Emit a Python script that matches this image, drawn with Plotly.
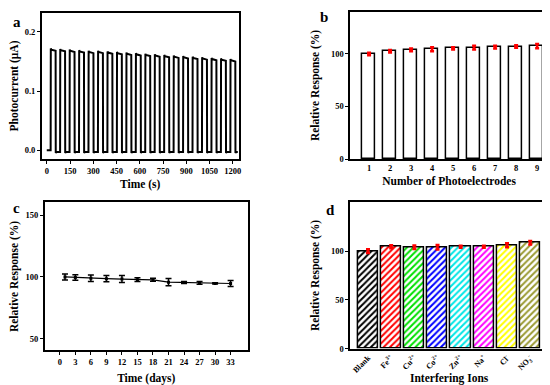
import plotly.graph_objects as go

# ---------------- data ----------------
# Panel a: on/off photocurrent cycles
pulse_on_times = [25, 86, 147, 208, 269, 330, 391, 452, 513, 574,
                  635, 696, 757, 818, 879, 940, 1001, 1062, 1123, 1184]
pulse_off_times = [57, 118, 179, 240, 301, 362, 423, 484, 545, 606,
                   667, 728, 789, 850, 911, 972, 1033, 1094, 1155, 1216]
pulse_peak_start = [0.172, 0.171, 0.170, 0.169, 0.168, 0.168, 0.167, 0.166, 0.165, 0.164,
                    0.163, 0.162, 0.161, 0.160, 0.159, 0.158, 0.157, 0.156, 0.155, 0.154]
pulse_peak_end = [0.168, 0.167, 0.166, 0.165, 0.164, 0.164, 0.163, 0.162, 0.161, 0.160,
                  0.159, 0.158, 0.157, 0.156, 0.155, 0.154, 0.153, 0.152, 0.151, 0.150]
dark_start = 0.0
dark_level = -0.003
dark_dip = -0.005
t_start = 0
t_end = 1232

# Panel b: reproducibility
electrodes = [1, 2, 3, 4, 5, 6, 7, 8, 9]
electrode_resp = [100, 102.5, 104, 104.5, 105.3, 106, 106.5, 107, 107.5]
electrode_err = [1.2, 1.2, 1.3, 1.8, 1.0, 1.8, 1.3, 1.2, 2.0]

# Panel c: stability over days
days = [1, 3, 6, 9, 12, 15, 18, 21, 24, 27, 30, 33]
day_resp = [100, 99.5, 99, 98.6, 98.3, 97.8, 97.7, 95.8, 95.5, 95.2, 94.8, 94.7]
day_err = [2.5, 2.2, 2.6, 2.5, 2.8, 1.5, 1.2, 3.0, 0.8, 1.2, 0.6, 2.5]

# Panel d: interference
ions = ["Blank", "Fe<sup>3+</sup>", "Cu<sup>2+</sup>", "Co<sup>2+</sup>", "Zn<sup>2+</sup>",
        "Na<sup>+</sup>", "Cl<sup>-</sup>", "NO<sub>3</sub><sup>-</sup>"]
ion_resp = [100, 104.5, 104, 104, 104.5, 104.5, 106, 108.5]
ion_err = [2.0, 1.5, 1.8, 2.2, 1.0, 1.0, 2.0, 1.8]
ion_colors = ["#000000", "#ff0000", "#00e000", "#0000ff", "#00e6e6", "#ff00ff", "#ffff00", "#9a9a33"]

# ---------------- build current trace ----------------
ts, cs = [t_start], [dark_start]
for i, (ton, toff, p0, p1) in enumerate(zip(pulse_on_times, pulse_off_times, pulse_peak_start, pulse_peak_end)):
    base = dark_start if i == 0 else dark_level
    ts += [ton, ton + 1, ton + 4, toff, toff + 1, toff + 5]
    cs += [base, p0, p0 - 0.002, p1, dark_dip, dark_level]
ts.append(t_end)
cs.append(dark_level)

FONT = "Liberation Serif"
tickfont = dict(family=FONT, size=8.5, color="black", weight="bold")
tickfont_small = dict(family=FONT, size=8, color="black", weight="bold")
titlefont = dict(family=FONT, size=11.5, color="black", weight="bold")

fig = go.Figure()

fig.add_trace(go.Scatter(x=ts, y=cs, mode="lines", line=dict(color="black", width=2),
                         xaxis="x", yaxis="y", showlegend=False))

fig.add_trace(go.Bar(x=electrodes, y=electrode_resp, width=0.62,
                     marker=dict(color="white", line=dict(color="black", width=1.5)),
                     error_y=dict(type="data", array=electrode_err, color="red", thickness=2.5, width=2),
                     xaxis="x2", yaxis="y2", showlegend=False))

fig.add_trace(go.Scatter(x=days, y=day_resp, mode="lines+markers",
                         line=dict(color="black", width=1.2),
                         marker=dict(symbol="square", size=3, color="black"),
                         error_y=dict(type="data", array=day_err, color="black", thickness=1.5, width=3),
                         xaxis="x3", yaxis="y3", showlegend=False))

fig.add_trace(go.Bar(x=list(range(len(ions))), y=ion_resp, width=0.87,
                     marker=dict(color="white", line=dict(color="black", width=1.5),
                                 pattern=dict(shape="/", fgcolor=ion_colors, bgcolor="white",
                                              size=4.5, solidity=0.45, fillmode="replace", fgopacity=1)),
                     error_y=dict(type="data", array=ion_err, color="red", thickness=2.5, width=2),
                     xaxis="x4", yaxis="y4", showlegend=False))


def ax(**kw):
    base = dict(showline=True, linecolor="black", linewidth=1.5, mirror=True,
                showgrid=False, zeroline=False, tickfont=tickfont,
                ticks="outside", ticklen=3, tickwidth=1.2, tickcolor="black")
    base.update(kw)
    return base


fig.update_layout(
    width=550, height=385, margin=dict(l=0, r=0, t=0, b=0),
    paper_bgcolor="white", plot_bgcolor="white",
    bargap=0,
    xaxis=ax(domain=[0.0618, 0.4218], range=[-32, 1238], tickvals=[0, 150, 300, 450, 600, 750, 900, 1050, 1200],
             title=dict(text="Time (s)", font=titlefont, standoff=5), anchor="y"),
    yaxis=ax(domain=[0.6026, 0.987], range=[-0.015, 0.232], tickvals=[0.0, 0.1, 0.2], tickformat=".1f",
             title=dict(text="Photocurrent (μA)", font=titlefont, standoff=7), anchor="x"),
    xaxis2=ax(domain=[0.6255, 0.9873], range=[0.1, 9.52], tickvals=electrodes, ticks="",
              title=dict(text="Number of Photoelectrodes", font=titlefont, standoff=5), anchor="y2"),
    yaxis2=ax(domain=[0.6026, 0.9896], range=[0, 140], tickvals=[0, 50, 100],
              title=dict(text="Relative Response (%)", font=titlefont, standoff=9), anchor="x2"),
    xaxis3=ax(domain=[0.0673, 0.4382], range=[-2.9, 36.3], tickvals=[0, 3, 6, 9, 12, 15, 18, 21, 24, 27, 30, 33],
              title=dict(text="Time (days)", font=titlefont, standoff=8), anchor="y3"),
    yaxis3=ax(domain=[0.0987, 0.4883], range=[40.4, 160.4], tickvals=[50, 100, 150],
              title=dict(text="Relative Response (%)", font=titlefont, standoff=9), anchor="x3"),
    xaxis4=ax(domain=[0.6255, 0.9873], range=[-0.77, 7.77], tickvals=list(range(len(ions))), ticktext=ions,
              tickangle=-45, tickfont=tickfont_small, ticks="", anchor="y4"),
    yaxis4=ax(domain=[0.1039, 0.4883], range=[0, 150], tickvals=[0, 50, 100],
              title=dict(text="Relative Response (%)", font=titlefont, standoff=9), anchor="x4"),
)

fig.add_annotation(text="Interfering Ions", x=(0.6255 + 0.9873) / 2, y=1 - 375 / 385,
                   xref="paper", yref="paper", showarrow=False, font=titlefont,
                   xanchor="center", yanchor="middle")

panel_font = dict(family=FONT, size=15, color="black", weight="bold")
for lab, x, y in [("a", 9, 14), ("b", 318, 9), ("c", 9, 203), ("d", 324, 205)]:
    fig.add_annotation(text=lab, x=x / 550, y=1 - y / 385, xref="paper", yref="paper",
                       showarrow=False, font=panel_font, xanchor="center", yanchor="middle")

fig.write_html("out.html")
